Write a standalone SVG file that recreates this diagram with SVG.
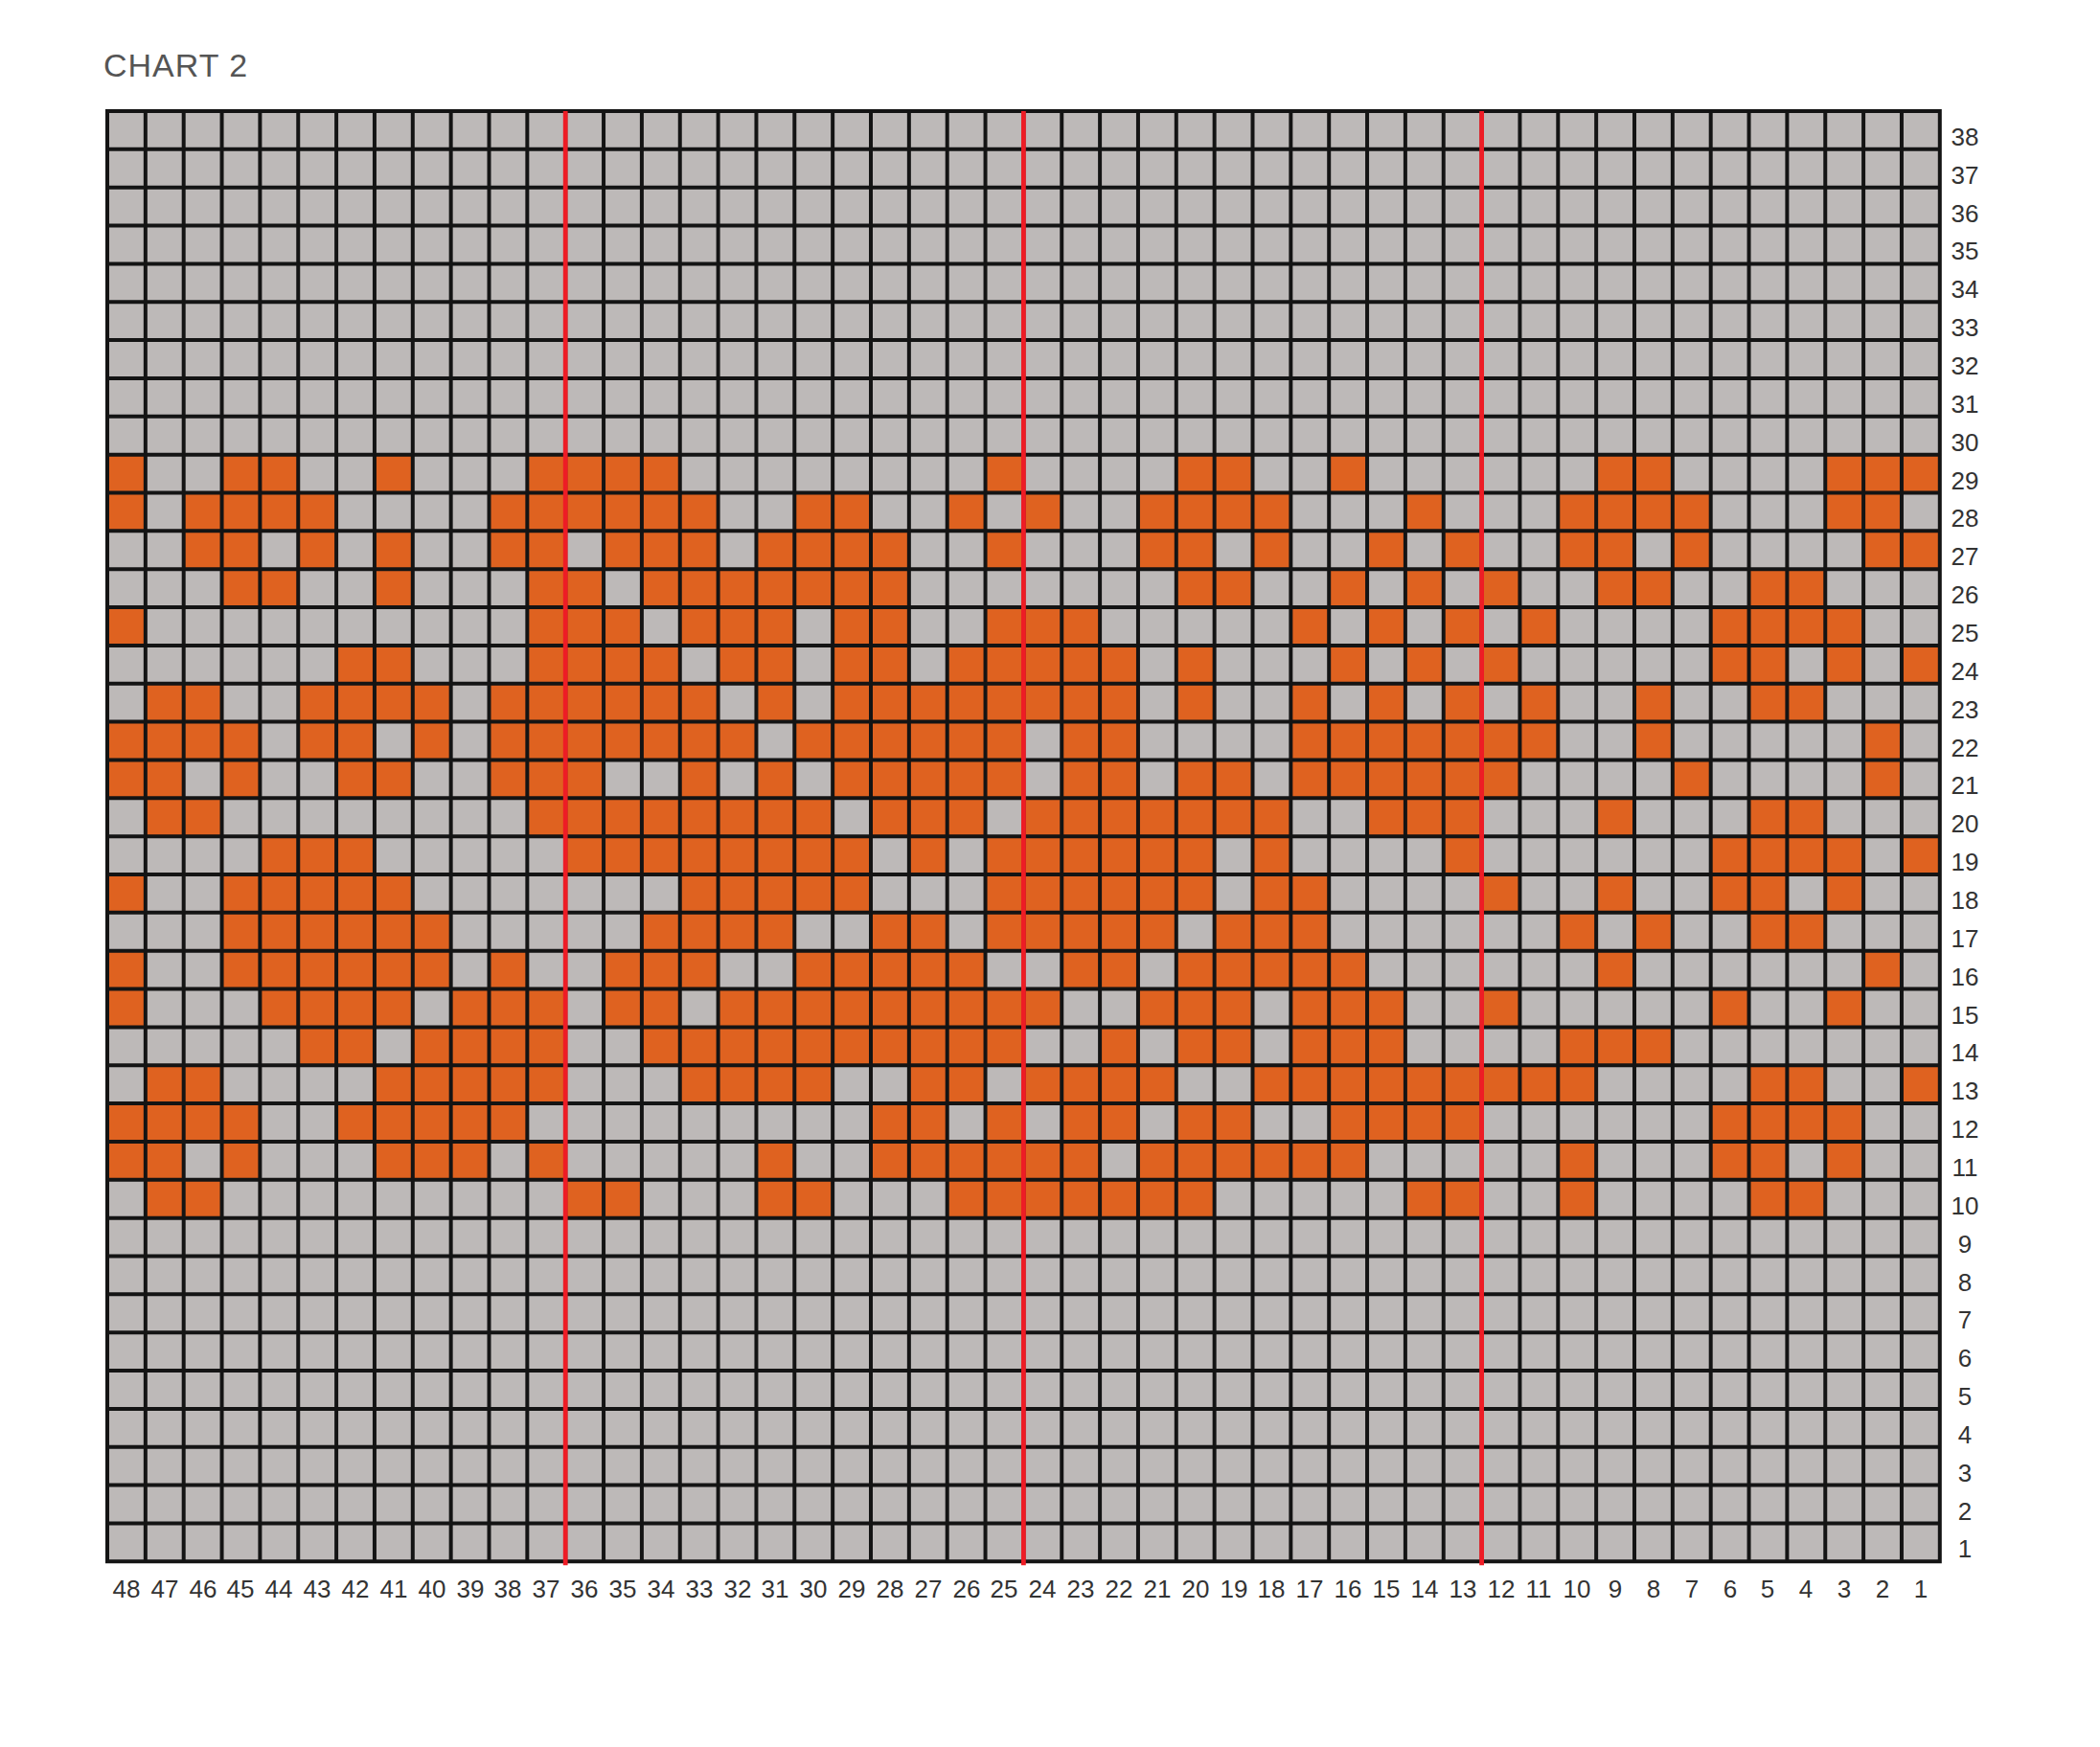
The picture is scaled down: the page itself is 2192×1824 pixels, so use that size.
<svg xmlns="http://www.w3.org/2000/svg" width="2192" height="1824" viewBox="0 0 2192 1824">
<style>
.o{fill:#df6220}
.lbl{font-family:"Liberation Sans",Arial,sans-serif;font-size:26px;fill:#333;text-anchor:middle}
.title{font-family:"Liberation Sans",Arial,sans-serif;font-size:34px;fill:#555;letter-spacing:1px}
</style>
<rect width="2192" height="1824" fill="#fff"/>
<text class="title" x="108" y="80">CHART 2</text>
<g id="chart" transform="translate(112,116) scale(39.85)">
<rect id="bg" x="0" y="0" width="48" height="38" fill="#bdb9b8"/>
<g id="orange" class="o">
<!-- row 29 -->
<rect x="0" y="9" width="1" height="1"/><rect x="3" y="9" width="2" height="1"/><rect x="7" y="9" width="1" height="1"/><rect x="11" y="9" width="4" height="1"/><rect x="23" y="9" width="1" height="1"/><rect x="28" y="9" width="2" height="1"/><rect x="32" y="9" width="1" height="1"/><rect x="39" y="9" width="2" height="1"/><rect x="45" y="9" width="3" height="1"/>
<!-- row 28 -->
<rect x="0" y="10" width="1" height="1"/><rect x="2" y="10" width="4" height="1"/><rect x="10" y="10" width="6" height="1"/><rect x="18" y="10" width="2" height="1"/><rect x="22" y="10" width="1" height="1"/><rect x="24" y="10" width="1" height="1"/><rect x="27" y="10" width="4" height="1"/><rect x="34" y="10" width="1" height="1"/><rect x="38" y="10" width="4" height="1"/><rect x="45" y="10" width="2" height="1"/>
<!-- row 27 -->
<rect x="2" y="11" width="2" height="1"/><rect x="5" y="11" width="1" height="1"/><rect x="7" y="11" width="1" height="1"/><rect x="10" y="11" width="2" height="1"/><rect x="13" y="11" width="3" height="1"/><rect x="17" y="11" width="4" height="1"/><rect x="23" y="11" width="1" height="1"/><rect x="27" y="11" width="2" height="1"/><rect x="30" y="11" width="1" height="1"/><rect x="33" y="11" width="1" height="1"/><rect x="35" y="11" width="1" height="1"/><rect x="38" y="11" width="2" height="1"/><rect x="41" y="11" width="1" height="1"/><rect x="46" y="11" width="2" height="1"/>
<!-- row 26 -->
<rect x="3" y="12" width="2" height="1"/><rect x="7" y="12" width="1" height="1"/><rect x="11" y="12" width="2" height="1"/><rect x="14" y="12" width="7" height="1"/><rect x="28" y="12" width="2" height="1"/><rect x="32" y="12" width="1" height="1"/><rect x="34" y="12" width="1" height="1"/><rect x="36" y="12" width="1" height="1"/><rect x="39" y="12" width="2" height="1"/><rect x="43" y="12" width="2" height="1"/>
<!-- row 25 -->
<rect x="0" y="13" width="1" height="1"/><rect x="11" y="13" width="3" height="1"/><rect x="15" y="13" width="3" height="1"/><rect x="19" y="13" width="2" height="1"/><rect x="23" y="13" width="3" height="1"/><rect x="31" y="13" width="1" height="1"/><rect x="33" y="13" width="1" height="1"/><rect x="35" y="13" width="1" height="1"/><rect x="37" y="13" width="1" height="1"/><rect x="42" y="13" width="4" height="1"/>
<!-- row 24 -->
<rect x="6" y="14" width="2" height="1"/><rect x="11" y="14" width="4" height="1"/><rect x="16" y="14" width="2" height="1"/><rect x="19" y="14" width="2" height="1"/><rect x="22" y="14" width="5" height="1"/><rect x="28" y="14" width="1" height="1"/><rect x="32" y="14" width="1" height="1"/><rect x="34" y="14" width="1" height="1"/><rect x="36" y="14" width="1" height="1"/><rect x="42" y="14" width="2" height="1"/><rect x="45" y="14" width="1" height="1"/><rect x="47" y="14" width="1" height="1"/>
<!-- row 23 -->
<rect x="1" y="15" width="2" height="1"/><rect x="5" y="15" width="4" height="1"/><rect x="10" y="15" width="6" height="1"/><rect x="17" y="15" width="1" height="1"/><rect x="19" y="15" width="8" height="1"/><rect x="28" y="15" width="1" height="1"/><rect x="31" y="15" width="1" height="1"/><rect x="33" y="15" width="1" height="1"/><rect x="35" y="15" width="1" height="1"/><rect x="37" y="15" width="1" height="1"/><rect x="40" y="15" width="1" height="1"/><rect x="43" y="15" width="2" height="1"/>
<!-- row 22 -->
<rect x="0" y="16" width="4" height="1"/><rect x="5" y="16" width="2" height="1"/><rect x="8" y="16" width="1" height="1"/><rect x="10" y="16" width="7" height="1"/><rect x="18" y="16" width="6" height="1"/><rect x="25" y="16" width="2" height="1"/><rect x="31" y="16" width="7" height="1"/><rect x="40" y="16" width="1" height="1"/><rect x="46" y="16" width="1" height="1"/>
<!-- row 21 -->
<rect x="0" y="17" width="2" height="1"/><rect x="3" y="17" width="1" height="1"/><rect x="6" y="17" width="2" height="1"/><rect x="10" y="17" width="3" height="1"/><rect x="15" y="17" width="1" height="1"/><rect x="17" y="17" width="1" height="1"/><rect x="19" y="17" width="5" height="1"/><rect x="25" y="17" width="2" height="1"/><rect x="28" y="17" width="2" height="1"/><rect x="31" y="17" width="6" height="1"/><rect x="41" y="17" width="1" height="1"/><rect x="46" y="17" width="1" height="1"/>
<!-- row 20 -->
<rect x="1" y="18" width="2" height="1"/><rect x="11" y="18" width="8" height="1"/><rect x="20" y="18" width="3" height="1"/><rect x="24" y="18" width="7" height="1"/><rect x="33" y="18" width="3" height="1"/><rect x="39" y="18" width="1" height="1"/><rect x="43" y="18" width="2" height="1"/>
<!-- row 19 -->
<rect x="4" y="19" width="3" height="1"/><rect x="12" y="19" width="8" height="1"/><rect x="21" y="19" width="1" height="1"/><rect x="23" y="19" width="6" height="1"/><rect x="30" y="19" width="1" height="1"/><rect x="35" y="19" width="1" height="1"/><rect x="42" y="19" width="4" height="1"/><rect x="47" y="19" width="1" height="1"/>
<!-- row 18 -->
<rect x="0" y="20" width="1" height="1"/><rect x="3" y="20" width="5" height="1"/><rect x="15" y="20" width="5" height="1"/><rect x="23" y="20" width="6" height="1"/><rect x="30" y="20" width="2" height="1"/><rect x="36" y="20" width="1" height="1"/><rect x="39" y="20" width="1" height="1"/><rect x="42" y="20" width="2" height="1"/><rect x="45" y="20" width="1" height="1"/>
<!-- row 17 -->
<rect x="3" y="21" width="6" height="1"/><rect x="14" y="21" width="4" height="1"/><rect x="20" y="21" width="2" height="1"/><rect x="23" y="21" width="5" height="1"/><rect x="29" y="21" width="3" height="1"/><rect x="38" y="21" width="1" height="1"/><rect x="40" y="21" width="1" height="1"/><rect x="43" y="21" width="2" height="1"/>
<!-- row 16 -->
<rect x="0" y="22" width="1" height="1"/><rect x="3" y="22" width="6" height="1"/><rect x="10" y="22" width="1" height="1"/><rect x="13" y="22" width="3" height="1"/><rect x="18" y="22" width="5" height="1"/><rect x="25" y="22" width="2" height="1"/><rect x="28" y="22" width="5" height="1"/><rect x="39" y="22" width="1" height="1"/><rect x="46" y="22" width="1" height="1"/>
<!-- row 15 -->
<rect x="0" y="23" width="1" height="1"/><rect x="4" y="23" width="4" height="1"/><rect x="9" y="23" width="3" height="1"/><rect x="13" y="23" width="2" height="1"/><rect x="16" y="23" width="9" height="1"/><rect x="27" y="23" width="3" height="1"/><rect x="31" y="23" width="3" height="1"/><rect x="36" y="23" width="1" height="1"/><rect x="42" y="23" width="1" height="1"/><rect x="45" y="23" width="1" height="1"/>
<!-- row 14 -->
<rect x="5" y="24" width="2" height="1"/><rect x="8" y="24" width="4" height="1"/><rect x="14" y="24" width="10" height="1"/><rect x="26" y="24" width="1" height="1"/><rect x="28" y="24" width="2" height="1"/><rect x="31" y="24" width="3" height="1"/><rect x="38" y="24" width="3" height="1"/>
<!-- row 13 -->
<rect x="1" y="25" width="2" height="1"/><rect x="7" y="25" width="5" height="1"/><rect x="15" y="25" width="4" height="1"/><rect x="21" y="25" width="2" height="1"/><rect x="24" y="25" width="4" height="1"/><rect x="30" y="25" width="9" height="1"/><rect x="43" y="25" width="2" height="1"/><rect x="47" y="25" width="1" height="1"/>
<!-- row 12 -->
<rect x="0" y="26" width="4" height="1"/><rect x="6" y="26" width="5" height="1"/><rect x="20" y="26" width="2" height="1"/><rect x="23" y="26" width="1" height="1"/><rect x="25" y="26" width="2" height="1"/><rect x="28" y="26" width="2" height="1"/><rect x="32" y="26" width="4" height="1"/><rect x="42" y="26" width="4" height="1"/>
<!-- row 11 -->
<rect x="0" y="27" width="2" height="1"/><rect x="3" y="27" width="1" height="1"/><rect x="7" y="27" width="3" height="1"/><rect x="11" y="27" width="1" height="1"/><rect x="17" y="27" width="1" height="1"/><rect x="20" y="27" width="6" height="1"/><rect x="27" y="27" width="6" height="1"/><rect x="38" y="27" width="1" height="1"/><rect x="42" y="27" width="2" height="1"/><rect x="45" y="27" width="1" height="1"/>
<!-- row 10 -->
<rect x="1" y="28" width="2" height="1"/><rect x="12" y="28" width="2" height="1"/><rect x="17" y="28" width="2" height="1"/><rect x="22" y="28" width="7" height="1"/><rect x="34" y="28" width="2" height="1"/><rect x="38" y="28" width="1" height="1"/><rect x="43" y="28" width="2" height="1"/>
</g>
<path id="gridlines" fill="none" stroke="#141414" stroke-width="0.1" stroke-linecap="square" d="M0 0V38M1 0V38M2 0V38M3 0V38M4 0V38M5 0V38M6 0V38M7 0V38M8 0V38M9 0V38M10 0V38M11 0V38M12 0V38M13 0V38M14 0V38M15 0V38M16 0V38M17 0V38M18 0V38M19 0V38M20 0V38M21 0V38M22 0V38M23 0V38M24 0V38M25 0V38M26 0V38M27 0V38M28 0V38M29 0V38M30 0V38M31 0V38M32 0V38M33 0V38M34 0V38M35 0V38M36 0V38M37 0V38M38 0V38M39 0V38M40 0V38M41 0V38M42 0V38M43 0V38M44 0V38M45 0V38M46 0V38M47 0V38M48 0V38M0 0H48M0 1H48M0 2H48M0 3H48M0 4H48M0 5H48M0 6H48M0 7H48M0 8H48M0 9H48M0 10H48M0 11H48M0 12H48M0 13H48M0 14H48M0 15H48M0 16H48M0 17H48M0 18H48M0 19H48M0 20H48M0 21H48M0 22H48M0 23H48M0 24H48M0 25H48M0 26H48M0 27H48M0 28H48M0 29H48M0 30H48M0 31H48M0 32H48M0 33H48M0 34H48M0 35H48M0 36H48M0 37H48M0 38H48"/>
<path id="redlines" fill="none" stroke="#ee1c25" stroke-width="0.12" d="M12 0V38.1M24 0V38.1M36 0V38.1"/>
</g>
<g id="row-labels" class="lbl">
<text x="2051" y="152">38</text><text x="2051" y="192">37</text><text x="2051" y="232">36</text><text x="2051" y="271">35</text><text x="2051" y="311">34</text><text x="2051" y="351">33</text><text x="2051" y="391">32</text><text x="2051" y="431">31</text><text x="2051" y="471">30</text><text x="2051" y="511">29</text><text x="2051" y="550">28</text><text x="2051" y="590">27</text><text x="2051" y="630">26</text><text x="2051" y="670">25</text><text x="2051" y="710">24</text><text x="2051" y="750">23</text><text x="2051" y="790">22</text><text x="2051" y="829">21</text><text x="2051" y="869">20</text><text x="2051" y="909">19</text><text x="2051" y="949">18</text><text x="2051" y="989">17</text><text x="2051" y="1029">16</text><text x="2051" y="1069">15</text><text x="2051" y="1108">14</text><text x="2051" y="1148">13</text><text x="2051" y="1188">12</text><text x="2051" y="1228">11</text><text x="2051" y="1268">10</text><text x="2051" y="1308">9</text><text x="2051" y="1348">8</text><text x="2051" y="1387">7</text><text x="2051" y="1427">6</text><text x="2051" y="1467">5</text><text x="2051" y="1507">4</text><text x="2051" y="1547">3</text><text x="2051" y="1587">2</text><text x="2051" y="1626">1</text>
</g>
<g id="col-labels" class="lbl">
<text x="132" y="1668">48</text><text x="172" y="1668">47</text><text x="212" y="1668">46</text><text x="251" y="1668">45</text><text x="291" y="1668">44</text><text x="331" y="1668">43</text><text x="371" y="1668">42</text><text x="411" y="1668">41</text><text x="451" y="1668">40</text><text x="491" y="1668">39</text><text x="530" y="1668">38</text><text x="570" y="1668">37</text><text x="610" y="1668">36</text><text x="650" y="1668">35</text><text x="690" y="1668">34</text><text x="730" y="1668">33</text><text x="770" y="1668">32</text><text x="809" y="1668">31</text><text x="849" y="1668">30</text><text x="889" y="1668">29</text><text x="929" y="1668">28</text><text x="969" y="1668">27</text><text x="1009" y="1668">26</text><text x="1048" y="1668">25</text><text x="1088" y="1668">24</text><text x="1128" y="1668">23</text><text x="1168" y="1668">22</text><text x="1208" y="1668">21</text><text x="1248" y="1668">20</text><text x="1288" y="1668">19</text><text x="1327" y="1668">18</text><text x="1367" y="1668">17</text><text x="1407" y="1668">16</text><text x="1447" y="1668">15</text><text x="1487" y="1668">14</text><text x="1527" y="1668">13</text><text x="1567" y="1668">12</text><text x="1606" y="1668">11</text><text x="1646" y="1668">10</text><text x="1686" y="1668">9</text><text x="1726" y="1668">8</text><text x="1766" y="1668">7</text><text x="1806" y="1668">6</text><text x="1845" y="1668">5</text><text x="1885" y="1668">4</text><text x="1925" y="1668">3</text><text x="1965" y="1668">2</text><text x="2005" y="1668">1</text>
</g>
</svg>
